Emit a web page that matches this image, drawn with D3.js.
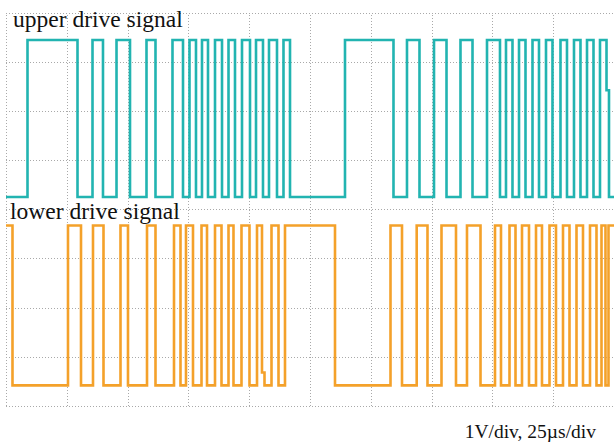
<!DOCTYPE html>
<html>
<head>
<meta charset="utf-8">
<script src="https://cdn.jsdelivr.net/npm/d3@7"></script>
<style>
  html, body { margin: 0; padding: 0; background: #ffffff; }
  svg { display: block; }
  .grid line { stroke: #a9a9a9; stroke-width: 1; stroke-dasharray: 1 2; shape-rendering: crispEdges; }
  .grid path { display: none; }
  .trace { fill: none; stroke-width: 2.6; stroke-linejoin: miter; }
  .label { font-family: "Liberation Serif", "Times New Roman", serif; fill: #111; }
</style>
</head>
<body>
<script>
// Scope settings: 25 µs per horizontal division, 1 V per vertical division
const timeTicks = d3.range(0, 251, 25);   // µs, 10 divisions
const voltTicks = d3.range(0, 9, 1);      // V, 8 divisions

// Screen levels of each channel (V, measured from the bottom graticule line)
const upperLevel = [4.25, 7.44];   // [low, high]
const lowerLevel = [0.42, 3.67];   // [low, high]

// Upper drive signal: [time µs, state] where state 0 = low, 1 = high
const upperTrace = [
  [0, 0], [8.84, 1], [29.40, 0], [35.57, 1], [39.88, 0], [45.44, 1], [50.99, 0],
  [57.77, 1], [61.47, 0], [68.46, 1], [72.78, 0], [75.45, 1], [78.12, 0],
  [80.59, 1], [83.06, 0], [85.94, 1], [88.82, 0], [91.49, 1], [94.16, 0],
  [97.04, 1], [100.33, 0], [102.80, 1], [105.67, 0], [108.14, 1], [111.43, 0],
  [114.10, 1], [116.78, 0], [139.39, 1], [159.33, 0], [164.88, 1], [170.02, 0],
  [175.99, 1], [181.13, 0], [186.88, 1], [191.82, 0], [197.78, 1], [203.12, 0],
  [205.59, 1], [208.26, 0], [210.94, 1], [213.61, 0], [216.49, 1], [219.16, 0],
  [222.04, 1], [224.71, 0], [228.00, 1], [230.67, 0], [233.55, 1], [236.22, 0],
  [238.90, 1], [241.57, 0], [244.24, 1], [246.92, 0.68], [247.94, 0], [250, 0]
];

// Lower drive signal: [time µs, state]
const lowerTrace = [
  [0, 1], [2.67, 0], [25.49, 1], [30.84, 0], [35.77, 1], [40.09, 0], [47.08, 1],
  [50.16, 0], [57.98, 1], [61.47, 0], [69.08, 1], [71.75, 0], [74.01, 1],
  [76.89, 0], [80.39, 1], [82.65, 0], [85.94, 1], [88.61, 0], [91.49, 1],
  [93.54, 0], [96.83, 1], [100.12, 0], [103.21, 1], [105.26, 0.08], [106.29, 0],
  [109.17, 1], [112.05, 0], [114.72, 1], [135.28, 0], [158.10, 1], [162.83, 0],
  [168.87, 1], [173.31, 0], [179.07, 1], [185.03, 0], [189.55, 1], [195.11, 0],
  [201.07, 1], [203.53, 0], [207.03, 1], [209.50, 0], [212.17, 1], [215.05, 0],
  [217.93, 1], [220.39, 0], [223.48, 1], [226.15, 0], [229.03, 1], [231.70, 0],
  [234.58, 1], [237.25, 0], [240.13, 1], [242.80, 0], [244.86, 1], [246.50, 0],
  [247.74, 1], [250, 1]
];

// Channel captions and scale note
const upperCaption = "upper drive signal";
const lowerCaption = "lower drive signal";
const scaleNote = "1V/div, 25µs/div";

const W = 614, H = 443;
const plot = { left: 6, right: 614, top: 12.5, bottom: 406 };

const svg = d3.select("body").append("svg")
  .attr("width", W).attr("height", H);

const x = d3.scaleLinear().domain([0, 250]).range([plot.left, plot.right]);
const y = d3.scaleLinear().domain([0, 8]).range([plot.bottom, plot.top]);

// Dotted graticule drawn through the axis generators
svg.append("g").attr("class", "grid")
  .attr("transform", `translate(0,${plot.bottom})`)
  .call(d3.axisBottom(x).tickValues(timeTicks).tickSize(-(plot.bottom - plot.top)).tickFormat(""));

svg.append("g").attr("class", "grid")
  .attr("transform", `translate(${plot.left},0)`)
  .call(d3.axisLeft(y).tickValues(voltTicks).tickSize(-(plot.right - plot.left)).tickFormat(""));

function traceLine(level) {
  return d3.line()
    .x(d => x(d[0]))
    .y(d => y(level[0] + d[1] * (level[1] - level[0])))
    .curve(d3.curveStepAfter);
}

svg.append("path").attr("class", "trace")
  .attr("stroke", "#22b4b1")
  .attr("d", traceLine(upperLevel)(upperTrace));

svg.append("path").attr("class", "trace")
  .attr("stroke", "#f4a12a")
  .attr("d", traceLine(lowerLevel)(lowerTrace));

svg.append("text").attr("class", "label")
  .attr("x", 13).attr("y", 27).attr("font-size", 23.5)
  .text(upperCaption);

svg.append("text").attr("class", "label")
  .attr("x", 10).attr("y", 219).attr("font-size", 23.5)
  .text(lowerCaption);

svg.append("text").attr("class", "label")
  .attr("x", 596).attr("y", 438).attr("font-size", 19.5)
  .attr("text-anchor", "end")
  .text(scaleNote);
</script>
</body>
</html>
